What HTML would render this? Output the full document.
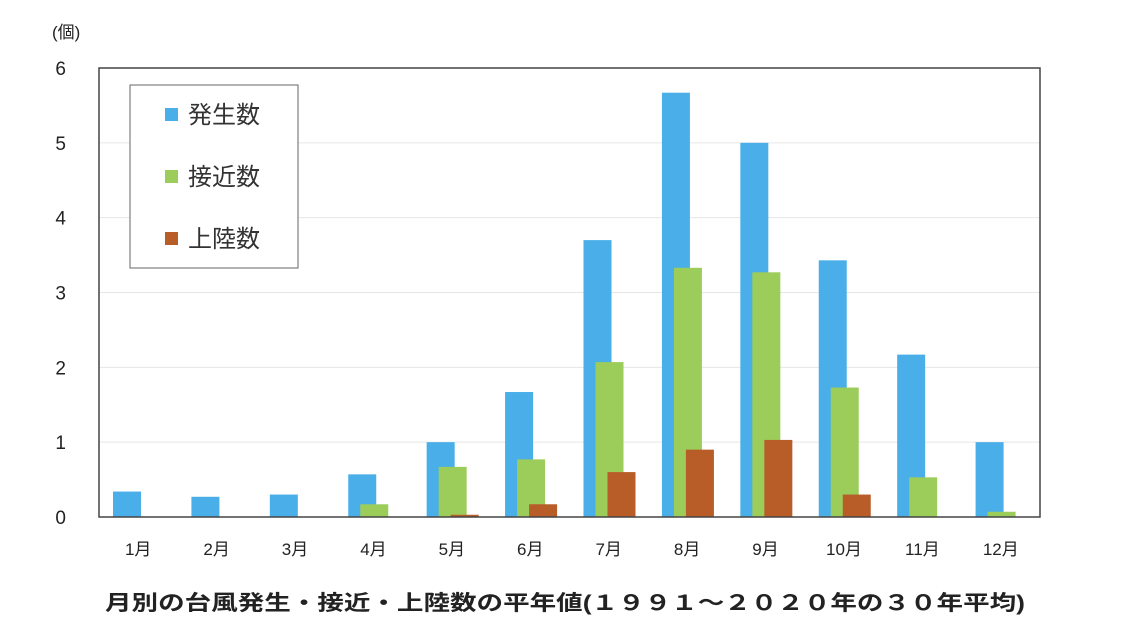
<!DOCTYPE html>
<html><head><meta charset="utf-8"><style>
body{margin:0;background:#fff;width:1140px;height:639px;overflow:hidden;font-family:"Liberation Sans","Noto Sans CJK JP",sans-serif;}
</style></head><body>
<svg id="c" width="1140" height="639" xmlns="http://www.w3.org/2000/svg" font-family="Liberation Sans, Noto Sans CJK JP, sans-serif">
<text x="52" y="38" font-size="17" fill="#222">(個)</text>
<g id="grid"></g><g id="bars"></g><g id="axes"></g>
<rect x="99" y="68" width="941" height="449" fill="none" stroke="#444" stroke-width="1.5"/>
<g>
<rect x="130" y="85" width="168" height="183" fill="#fff" stroke="#666" stroke-width="1"/>
<rect x="165" y="108" width="13" height="13" fill="#4aaee8"/>
<text x="188" y="123" font-size="24" fill="#333">発生数</text>
<rect x="165" y="170" width="13" height="13" fill="#9ccc5a"/>
<text x="188" y="185" font-size="24" fill="#333">接近数</text>
<rect x="165" y="232" width="13" height="13" fill="#b85c28"/>
<text x="188" y="247" font-size="24" fill="#333">上陸数</text>
</g>
<text x="105" y="610" font-size="21" font-weight="bold" fill="#222" textLength="920" lengthAdjust="spacingAndGlyphs">月別の台風発生・接近・上陸数の平年値(１９９１～２０２０年の３０年平均)</text>
</svg>
<script>
const categories=["1月","2月","3月","4月","5月","6月","7月","8月","9月","10月","11月","12月"];
const occurrence=[0.34,0.27,0.3,0.57,1.0,1.67,3.7,5.67,5.0,3.43,2.17,1.0];
const approach=[0,0,0,0.17,0.67,0.77,2.07,3.33,3.27,1.73,0.53,0.07];
const landfall=[0,0,0,0,0.03,0.17,0.6,0.9,1.03,0.3,0,0];
const yTicks=[0,1,2,3,4,5,6];
const NS="http://www.w3.org/2000/svg";
const L=99,R=1040,T=68,B=517,yMax=6;
const cw=(R-L)/categories.length;
const y=v=>B-(v/yMax)*(B-T);
const x=i=>L+i*cw;
function mk(tag,attrs,parent){const e=document.createElementNS(NS,tag);for(const k in attrs)e.setAttribute(k,attrs[k]);parent.appendChild(e);return e;}
const grid=document.getElementById('grid'),bars=document.getElementById('bars'),axes=document.getElementById('axes');
yTicks.forEach(t=>{
 if(t>0&&t<yMax){const g=mk('line',{x1:L,x2:R,y1:y(t),y2:y(t),stroke:'#e6e6e6','stroke-width':1},grid);
 
 }
 const tx=mk('text',{x:66,y:y(t)+7,'font-size':19,fill:'#222','text-anchor':'end'},axes);tx.textContent=t;
 
 
});
categories.forEach((c,i)=>{
 const tx=mk('text',{x:x(i)+cw/2,y:555,'font-size':17,fill:'#222','text-anchor':'middle'},axes);tx.textContent=c;
 
 
});
const series=[[occurrence,'#4aaee8','occurrence',14],[approach,'#9ccc5a','approach',26],[landfall,'#b85c28','landfall',38]];
series.forEach(([vals,col,nm,off])=>{
 vals.forEach((v,i)=>{
  if(v<=0)return;
  const r=mk('rect',{x:x(i)+off,y:y(v),width:28,height:B-y(v),fill:col},bars);
  
  
 });
});
</script>
</body></html>
